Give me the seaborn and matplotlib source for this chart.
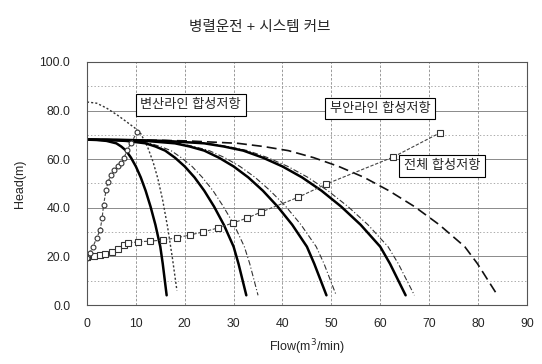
import matplotlib
matplotlib.use("Agg")
import matplotlib.pyplot as plt
import seaborn as sns
import pandas as pd

# ---- data ----
head_pts = [68, 67.9, 67.5, 66.5, 65.2, 63.5, 60.6, 57, 52.5, 47, 40.5, 33, 24, 17, 4]

flow_p1 = [0, 2, 4, 6, 7, 8, 9, 10, 11, 12, 13, 14, 15, 15.5, 16.3]
flow_p2 = [0, 4, 8, 12, 14, 16, 18, 20, 22, 24, 26, 28, 30, 31, 32.6]
flow_p3 = [0, 6, 12, 18, 21, 24, 27, 30, 33, 36, 39, 42, 45, 46.5, 49]
flow_p4 = [0, 8, 16, 24, 28, 32, 36, 40, 44, 48, 52, 56, 60, 62, 65.2]

flow_t2 = [0, 4.3, 8.6, 12.9, 15, 17.2, 19.3, 21.5, 23.6, 25.8, 27.9, 30.1, 32.2, 33.3, 35]
flow_t3 = [0, 6.3, 12.5, 18.8, 21.9, 25, 28.2, 31.3, 34.4, 37.5, 40.7, 43.8, 46.9, 48.5, 51]
flow_t4 = [0, 8.2, 16.4, 24.7, 28.8, 32.9, 37, 41.1, 45.2, 49.3, 53.4, 57.5, 61.6, 63.7, 67]
flow_d5 = [0, 10.3, 20.6, 30.9, 36.1, 41.2, 46.4, 51.5, 56.7, 61.8, 67, 72.1, 77.3, 79.9, 84]

flow_hi = [0, 2, 4, 6.3, 8, 9.8, 11, 12.4, 13.5, 14.5, 15.5, 16.5, 17.5, 18.4]
head_hi = [83.5, 83, 81, 78, 75.5, 72.8, 70.5, 65, 59, 52, 43, 32, 19, 6]

flow_sys_all = [0, 1.5, 2.7, 3.7, 5.1, 6.3, 7.5, 8.4, 10.4, 12.9, 15.5, 18.5, 21, 23.7,
                26.8, 29.8, 32.8, 35.7, 43.2, 49, 62.7, 72.2]
head_sys_all = [19.7, 20, 20.6, 21, 21.8, 23, 24.5, 25.5, 26, 26.3, 26.7, 27.7, 28.8, 30,
                31.7, 33.7, 35.8, 38.3, 44.3, 49.8, 60.9, 70.8]

flow_sys_bs = [0, 0.6, 1.2, 2.0, 2.7, 3.1, 3.4, 3.9, 4.3, 4.9, 5.6, 6.3, 7.0, 7.6, 8.2, 9.0, 10.2]
head_sys_bs = [19.5, 21.5, 23.9, 27.6, 30.9, 35.8, 41.2, 47.3, 50.6, 53.5, 55.5, 57, 58.4,
               60.5, 63.8, 66.5, 71]

title = "병렬운전 + 시스템 커브"
label_bs = "변산라인 합성저항"
label_ba = "부안라인 합성저항"
label_all = "전체 합성저항"
x_ticks = [0, 10, 20, 30, 40, 50, 60, 70, 80, 90]
y_ticks = [0, 20, 40, 60, 80, 100]

# ---- plotting ----
sns.set_style("white")
plt.rcParams['font.family'] = ['Liberation Sans', 'Noto Sans CJK KR']

fig = plt.figure(figsize=(5.42, 3.64), dpi=100)
ax = fig.add_axes([0.1605, 0.162, 0.8115, 0.668])

# grid
for y in range(0, 101, 10):
    ax.axhline(y, color='#8a8a8a', lw=0.7 if y % 20 == 0 else 0.5,
               ls='-' if y % 20 == 0 else (0, (2, 3)), zorder=0)
for x in range(0, 91, 10):
    ax.axvline(x, color='#8a8a8a', lw=0.6, ls=(0, (3, 2)), zorder=0)

def draw(xs, ys, **kw):
    df = pd.DataFrame({'Q': xs, 'H': ys})
    sns.lineplot(data=df, x='Q', y='H', ax=ax, sort=False, estimator=None, **kw)

# thin dash-dot pump curves
for f in (flow_t2, flow_t3, flow_t4):
    draw(f, head_pts, color='#333333', lw=0.8, linestyle=(0, (5, 2, 1, 2)))
# high-speed single pump (dotted)
draw(flow_hi, head_hi, color='#333333', lw=1.0, linestyle=(0, (1.5, 1.5)))
# dashed 5 pumps
draw(flow_d5, head_pts, color='#111111', lw=1.2, linestyle=(0, (6, 3)))
# black pump curves
for f in (flow_p1, flow_p2, flow_p3, flow_p4):
    draw(f, head_pts, color='black', lw=1.8)

# system curves
draw(flow_sys_all, head_sys_all, color='#444444', lw=0.8, linestyle=(0, (3, 1.5)),
     marker='s', markersize=4, markerfacecolor='white', markeredgecolor='#333333',
     markeredgewidth=0.8)
draw(flow_sys_bs, head_sys_bs, color='#444444', lw=0.8, linestyle=(0, (3, 1.5)),
     marker='o', markersize=3.5, markerfacecolor='white', markeredgecolor='#333333',
     markeredgewidth=0.8)

ax.set_xlim(0, 90)
ax.set_ylim(0, 100)
ax.set_xticks(x_ticks)
ax.set_xticklabels([str(v) for v in x_ticks])
ax.set_yticks(y_ticks)
ax.set_yticklabels([f"{v:.1f}" for v in y_ticks])
ax.tick_params(axis='y', labelsize=8.8, length=0, pad=12)
ax.tick_params(axis='x', labelsize=8.8, length=0, pad=9)
ax.set_xlabel("Flow(m$^3$/min)", fontsize=9, labelpad=6)
ax.set_ylabel("Head(m)", fontsize=9, labelpad=10)
for s in ax.spines.values():
    s.set_color('#555555')
    s.set_linewidth(0.8)
    s.set_linestyle((0, (1, 1)))

box = dict(boxstyle='square,pad=0.35', fc='white', ec='black', lw=0.8)
ax.text(21.2, 82.3, label_bs, fontsize=9.5, ha='center', va='center', bbox=box, zorder=5)
ax.text(60.0, 80.7, label_ba, fontsize=9.5, ha='center', va='center', bbox=box, zorder=5)
ax.text(72.7, 57.2, label_all, fontsize=9.5, ha='center', va='center', bbox=box, zorder=5)

fig.text(0.48, 0.925, title, fontsize=10.5, ha='center', va='center')

fig.savefig("out.png", dpi=100)
